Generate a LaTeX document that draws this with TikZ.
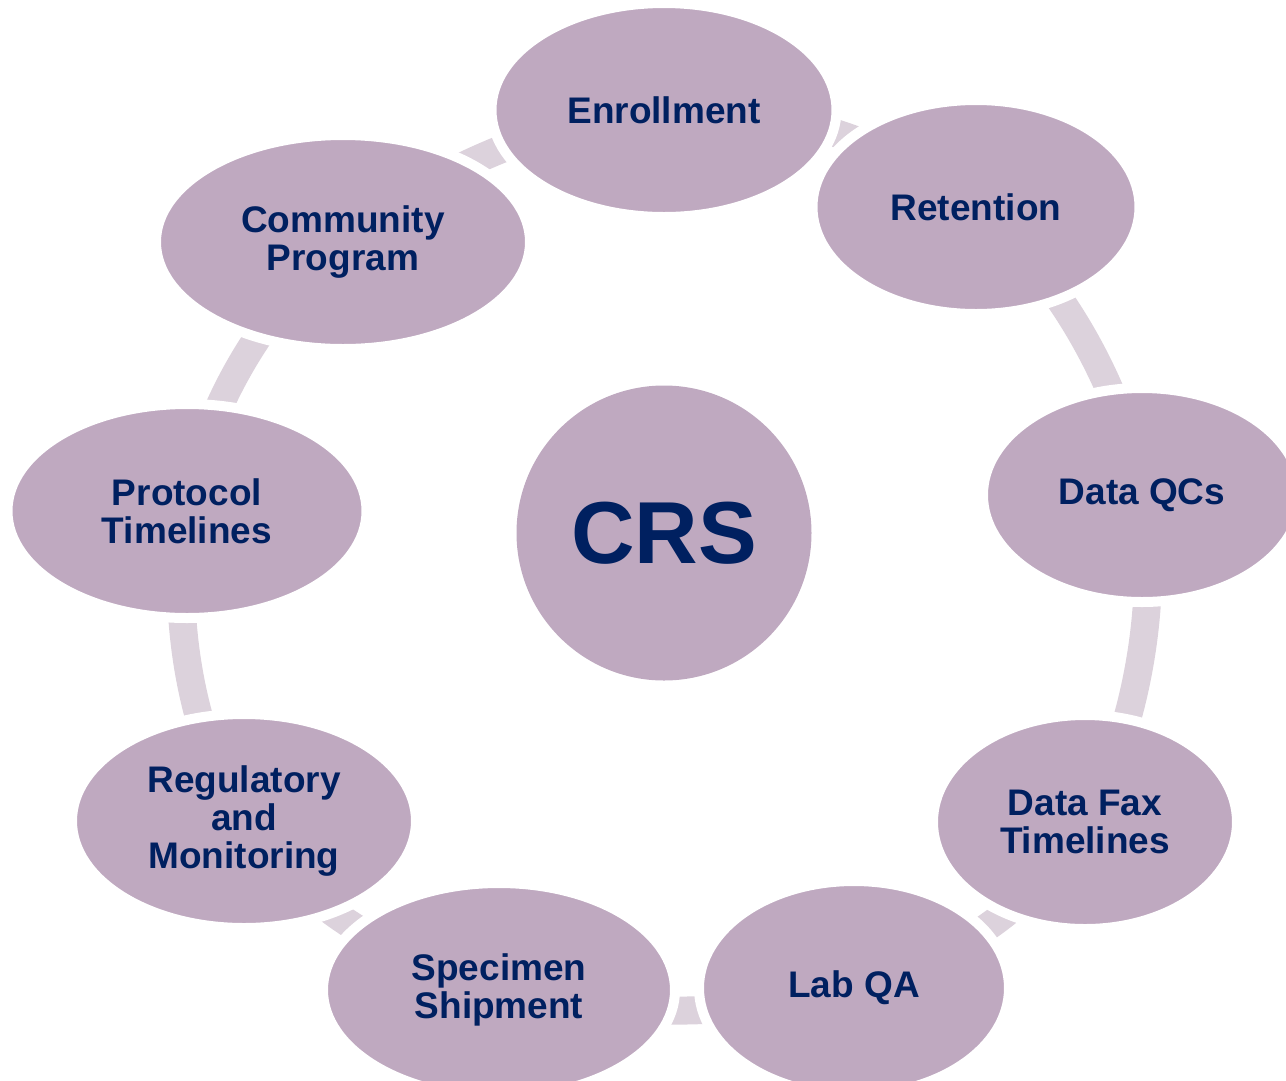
\documentclass[tikz,border=0pt]{standalone}
\usepackage{fontspec}
\setmainfont{Liberation Sans}
\usetikzlibrary{shapes.geometric}
\definecolor{nodefill}{HTML}{BFA9C0}
\definecolor{ringcol}{HTML}{DCD2DC}
\definecolor{navy}{HTML}{002060}
\begin{document}
\begin{tikzpicture}[x=1pt,y=-1pt,
  bubble/.style={ellipse, fill=nodefill, draw=white, line width=10pt, inner sep=0pt,
    align=center, text=navy, font=\fontsize{37}{38}\selectfont\bfseries},
  hub/.style={circle, fill=nodefill, inner sep=0pt, minimum size=295pt,
    text=navy, font=\fontsize{88}{90}\selectfont\bfseries},
  ring/.style={ringcol, line width=28pt}
]
\useasboundingbox (0,0) rectangle (1286,1080);
\clip (0,0) rectangle (1286,1080);
% ring
\coordinate (p0) at (664,110);
\coordinate (p1) at (976,207);
\coordinate (p2) at (1142,495);
\coordinate (p3) at (1085,822);
\coordinate (p4) at (854,988);
\coordinate (p5) at (499,990);
\coordinate (p6) at (244,821);
\coordinate (p7) at (187,511);
\coordinate (p8) at (343,242);
\draw[ring] plot[smooth cycle, tension=0.62] coordinates {(p0) (p1) (p2) (p3) (p4) (p5) (p6) (p7) (p8)};
% nodes
\node[bubble, minimum width=345, minimum height=214] (enr) at (p0) {Enrollment};
\node[bubble, minimum width=327, minimum height=214] (ret) at (p1) {Retention};
\node[bubble, minimum width=318, minimum height=214] (dqc) at (p2) {Data QCs};
\node[bubble, minimum width=304, minimum height=214] (dfx) at (p3) {Data Fax\\Timelines};
\node[bubble, minimum width=310, minimum height=214] (lab) at (p4) {Lab QA};
\node[bubble, minimum width=352, minimum height=214] (spe) at (p5) {Specimen\\Shipment};
\node[bubble, minimum width=344, minimum height=214] (reg) at (p6) {Regulatory\\and\\Monitoring};
\node[bubble, minimum width=359, minimum height=214] (pro) at (p7) {Protocol\\Timelines};
\node[bubble, minimum width=374, minimum height=214] (com) at (p8) {Community\\Program};
\node[hub] (crs) at (664,533) {CRS};
\end{tikzpicture}
\end{document}
